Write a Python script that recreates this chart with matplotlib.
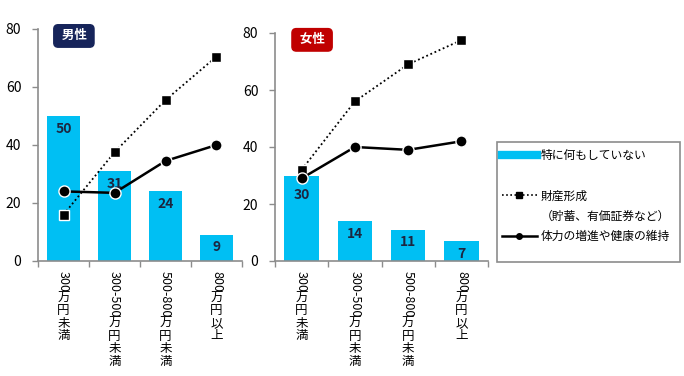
import matplotlib
matplotlib.use("Agg")
import matplotlib.pyplot as plt
from matplotlib.lines import Line2D
from matplotlib.patches import Rectangle

plt.rcParams['font.family'] = ['Noto Sans CJK JP', 'DejaVu Sans']

categories = ["300万円未満", "300-500万円未満", "500-800万円未満", "800万円以上"]
men_none = [50, 31, 24, 9]
men_asset = [16, 37.5, 55.5, 70.5]
men_health = [24, 23.5, 34.5, 40]
women_none = [30, 14, 11, 7]
women_asset = [32, 56, 69, 77.5]
women_health = [29, 40, 39, 42]

BAR = "#00BFF3"
AXC = "#8c8c8c"
LABC = "#1c2640"

W, H = 684, 376
fig = plt.figure(figsize=(W / 100, H / 100), dpi=100)


def fig_rect(x0, x1, ytop, ybot):
    return [x0 / W, 1 - ybot / H, (x1 - x0) / W, (ybot - ytop) / H]


axes = []


def panel(rect, none, asset, health, title, title_color, title_x):
    ax = fig.add_axes(rect)
    x = list(range(len(categories)))
    bars = ax.bar(x, none, width=0.65, color=BAR, zorder=1)
    for b, v, hv in zip(bars, none, health):
        # push the label lower when a marker sits on the bar top
        dy = -9 if abs(hv - v) < 3 else -4
        ax.annotate(str(v), (b.get_x() + b.get_width() / 2, v),
                    xytext=(0, dy), textcoords="offset points",
                    ha="center", va="top", fontsize=10, fontweight="bold",
                    color=LABC, zorder=2)
    ax.plot(x, asset, ls=(0, (1, 1.5)), lw=1.3, color="black", marker="s",
            ms=7, mfc="black", mec="white", mew=1.0, zorder=3)
    ax.plot(x, health, ls="-", lw=1.8, color="black", marker="o",
            ms=8, mfc="black", mec="white", mew=1.0, zorder=4)
    ax.set_xlim(-0.5, len(categories) - 0.5)
    ax.set_ylim(0, 80)
    ax.set_yticks([0, 20, 40, 60, 80])
    ax.set_xticks([i - 0.5 for i in range(len(categories) + 1)])
    ax.set_xticklabels([])
    ax.tick_params(axis="both", direction="out", length=4, color=AXC,
                   labelsize=10, width=1)
    ax.tick_params(axis="y", pad=8)
    for s in ("top", "right"):
        ax.spines[s].set_visible(False)
    for s in ("left", "bottom"):
        ax.spines[s].set_color(AXC)
        ax.spines[s].set_linewidth(1.2)
    ax.text(title_x, 0.97, title, transform=ax.transAxes, ha="center",
            va="center", color="white", fontsize=9, fontweight="bold",
            bbox=dict(boxstyle="round,pad=0.38,rounding_size=0.35",
                      fc=title_color, ec=title_color))
    axes.append(ax)
    return ax


panel(fig_rect(38, 242, 29, 261), men_none, men_asset, men_health,
      " 男性 ", "#16245a", 0.176)
panel(fig_rect(275, 488, 33, 261), women_none, women_asset, women_health,
      " 女性 ", "#c00000", 0.174)

# vertical category labels: digits rotated, kanji stacked upright
digit_texts = []
for ax in axes:
    for i, lab in enumerate(categories):
        k = 0
        while k < len(lab) and lab[k] in "0123456789-":
            k += 1
        t1 = ax.annotate(lab[:k], xy=(i, 0), xycoords=("data", "axes fraction"),
                         xytext=(0, -7), textcoords="offset points",
                         rotation=-90, ha="center", va="top", fontsize=9)
        digit_texts.append((ax, i, lab[k:], t1))

fig.canvas.draw()
renderer = fig.canvas.get_renderer()
for ax, i, rest, t1 in digit_texts:
    h_pt = t1.get_window_extent(renderer).height * 72 / fig.dpi
    ax.annotate("\n".join(rest), xy=(i, 0), xycoords=("data", "axes fraction"),
                xytext=(0, -7 - h_pt), textcoords="offset points",
                ha="center", va="top", fontsize=9, linespacing=0.95)

handles = [
    Line2D([], [], color=BAR, lw=6),
    Line2D([], [], color="none"),
    Line2D([], [], color="black", ls=(0, (1, 1.5)), lw=1.2, marker="s", ms=4),
    Line2D([], [], color="none"),
    Line2D([], [], color="black", lw=1.8, marker="o", ms=4),
]
labels = ["特に何もしていない", " ", "財産形成", "（貯蓄、有価証券など）",
          "体力の増進や健康の維持"]
leg = fig.legend(handles, labels, loc="upper left",
                 bbox_to_anchor=(497 / W, 1 - 144 / H), fontsize=8.5,
                 frameon=False, handlelength=3.0,
                 handletextpad=0.3, labelspacing=0.62, borderpad=0.4,
                 borderaxespad=0)
fig.add_artist(Rectangle((497 / W, 1 - 262 / H), 183 / W, 120 / H,
                         transform=fig.transFigure, fill=False,
                         ec=AXC, lw=1.2))

fig.savefig("out.png", dpi=100, facecolor="white")
